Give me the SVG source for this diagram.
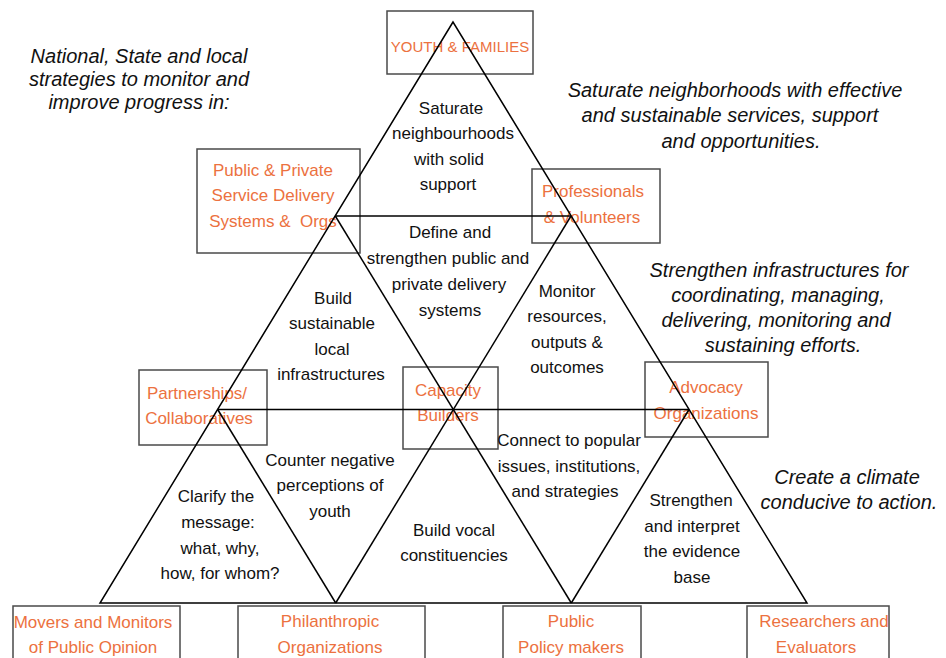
<svg xmlns="http://www.w3.org/2000/svg" width="946" height="658" viewBox="0 0 946 658">
  <style>
    .bg { fill: #ffffff; }
    .box { fill: none; stroke: #4a4a4a; stroke-width: 1.5; }
    .lbl { font-family: "Liberation Sans", Arial, sans-serif; font-size: 17px; fill: #ec7140; text-anchor: middle; }
    .body { font-family: "Liberation Sans", Arial, sans-serif; font-size: 17px; fill: #111111; text-anchor: middle; }
    .note { font-family: "Liberation Sans", Arial, sans-serif; font-size: 20px; font-style: italic; fill: #111111; text-anchor: middle; }
    .grid { fill: none; stroke: #000000; stroke-width: 1.5; stroke-linejoin: miter; }
  </style>
  <rect class="bg" x="0" y="0" width="946" height="658"/>

  <!-- side notes -->
  <g id="notes">
    <text class="note" x="139" y="63">National, State and local</text>
    <text class="note" x="139" y="86">strategies to monitor and</text>
    <text class="note" x="139" y="109">improve progress in:</text>

    <text class="note" x="735" y="97">Saturate neighborhoods with effective</text>
    <text class="note" x="730" y="122">and sustainable services, support</text>
    <text class="note" x="741" y="148">and opportunities.</text>

    <text class="note" x="779" y="277">Strengthen infrastructures for</text>
    <text class="note" x="778" y="302">coordinating, managing,</text>
    <text class="note" x="776" y="327">delivering, monitoring and</text>
    <text class="note" x="783" y="352">sustaining efforts.</text>

    <text class="note" x="847" y="484">Create a climate</text>
    <text class="note" x="849" y="509">conducive to action.</text>
  </g>

  <!-- stakeholder boxes -->
  <g id="youth-families">
    <rect class="box" x="387" y="11" width="146" height="63"/>
    <text class="lbl" x="460" y="52" style="font-size:15px">YOUTH &amp; FAMILIES</text>
  </g>
  <g id="service-delivery">
    <rect class="box" x="197" y="149" width="163" height="104"/>
    <text class="lbl" x="273" y="176">Public &amp; Private</text>
    <text class="lbl" x="273" y="201">Service Delivery</text>
    <text class="lbl" x="273" y="227" xml:space="preserve">Systems &amp;  Orgs</text>
  </g>
  <g id="professionals">
    <rect class="box" x="532" y="169" width="128" height="74"/>
    <text class="lbl" x="593" y="197">Professionals</text>
    <text class="lbl" x="592" y="223">&amp; Volunteers</text>
  </g>
  <g id="partnerships">
    <rect class="box" x="139" y="370" width="128" height="75"/>
    <text class="lbl" x="197" y="399">Partnerships/</text>
    <text class="lbl" x="199" y="424">Collaboratives</text>
  </g>
  <g id="capacity-builders">
    <rect class="box" x="403" y="367" width="95" height="82"/>
    <text class="lbl" x="448" y="396">Capacity</text>
    <text class="lbl" x="448" y="421">Builders</text>
  </g>
  <g id="advocacy">
    <rect class="box" x="645" y="362" width="123" height="75"/>
    <text class="lbl" x="706" y="393">Advocacy</text>
    <text class="lbl" x="706" y="419">Organizations</text>
  </g>
  <g id="movers-monitors">
    <rect class="box" x="13" y="606" width="167" height="60"/>
    <text class="lbl" x="93" y="628">Movers and Monitors</text>
    <text class="lbl" x="93" y="653">of Public Opinion</text>
  </g>
  <g id="philanthropic">
    <rect class="box" x="238" y="606" width="187" height="60"/>
    <text class="lbl" x="330" y="627">Philanthropic</text>
    <text class="lbl" x="330" y="653">Organizations</text>
  </g>
  <g id="policy-makers">
    <rect class="box" x="503" y="606" width="138" height="60"/>
    <text class="lbl" x="571" y="627">Public</text>
    <text class="lbl" x="571" y="653">Policy makers</text>
  </g>
  <g id="researchers">
    <rect class="box" x="747" y="606" width="142" height="60"/>
    <text class="lbl" x="824" y="627">Researchers and</text>
    <text class="lbl" x="816" y="653">Evaluators</text>
  </g>

  <!-- triangular grid linking the levels -->
  <g id="connectors">
    <polygon class="grid" points="453,22 100,603 807,603"/>
    <line class="grid" x1="335.3" y1="216" x2="571" y2="216"/>
    <line class="grid" x1="217.7" y1="409.5" x2="689" y2="409.5"/>
    <line class="grid" x1="335.3" y1="216" x2="571.3" y2="603"/>
    <line class="grid" x1="217.7" y1="409.5" x2="335.7" y2="603"/>
    <line class="grid" x1="571" y1="216" x2="335.7" y2="603"/>
    <line class="grid" x1="689" y1="409.5" x2="571.3" y2="603"/>
  </g>

  <!-- strategy texts inside the cells -->
  <g id="cell-texts">
    <text class="body" x="451" y="114">Saturate</text>
    <text class="body" x="453" y="139">neighbourhoods</text>
    <text class="body" x="449" y="165">with solid</text>
    <text class="body" x="448" y="190">support</text>

    <text class="body" x="450" y="238">Define and</text>
    <text class="body" x="448" y="264">strengthen public and</text>
    <text class="body" x="449" y="290">private delivery</text>
    <text class="body" x="450" y="316">systems</text>

    <text class="body" x="333" y="304">Build</text>
    <text class="body" x="332" y="329">sustainable</text>
    <text class="body" x="332" y="355">local</text>
    <text class="body" x="331" y="380">infrastructures</text>

    <text class="body" x="567" y="297">Monitor</text>
    <text class="body" x="567" y="322">resources,</text>
    <text class="body" x="567" y="348">outputs &amp;</text>
    <text class="body" x="567" y="373">outcomes</text>

    <text class="body" x="330" y="466">Counter negative</text>
    <text class="body" x="330" y="491">perceptions of</text>
    <text class="body" x="330" y="517">youth</text>

    <text class="body" x="216" y="502">Clarify the</text>
    <text class="body" x="218" y="528">message:</text>
    <text class="body" x="220" y="554">what, why,</text>
    <text class="body" x="220" y="579">how, for whom?</text>

    <text class="body" x="454" y="536">Build vocal</text>
    <text class="body" x="454" y="561">constituencies</text>

    <text class="body" x="569" y="446">Connect to popular</text>
    <text class="body" x="569" y="472">issues, institutions,</text>
    <text class="body" x="565" y="497">and strategies</text>

    <text class="body" x="691" y="506">Strengthen</text>
    <text class="body" x="692" y="532">and interpret</text>
    <text class="body" x="692" y="557">the evidence</text>
    <text class="body" x="692" y="583">base</text>
  </g>
</svg>
